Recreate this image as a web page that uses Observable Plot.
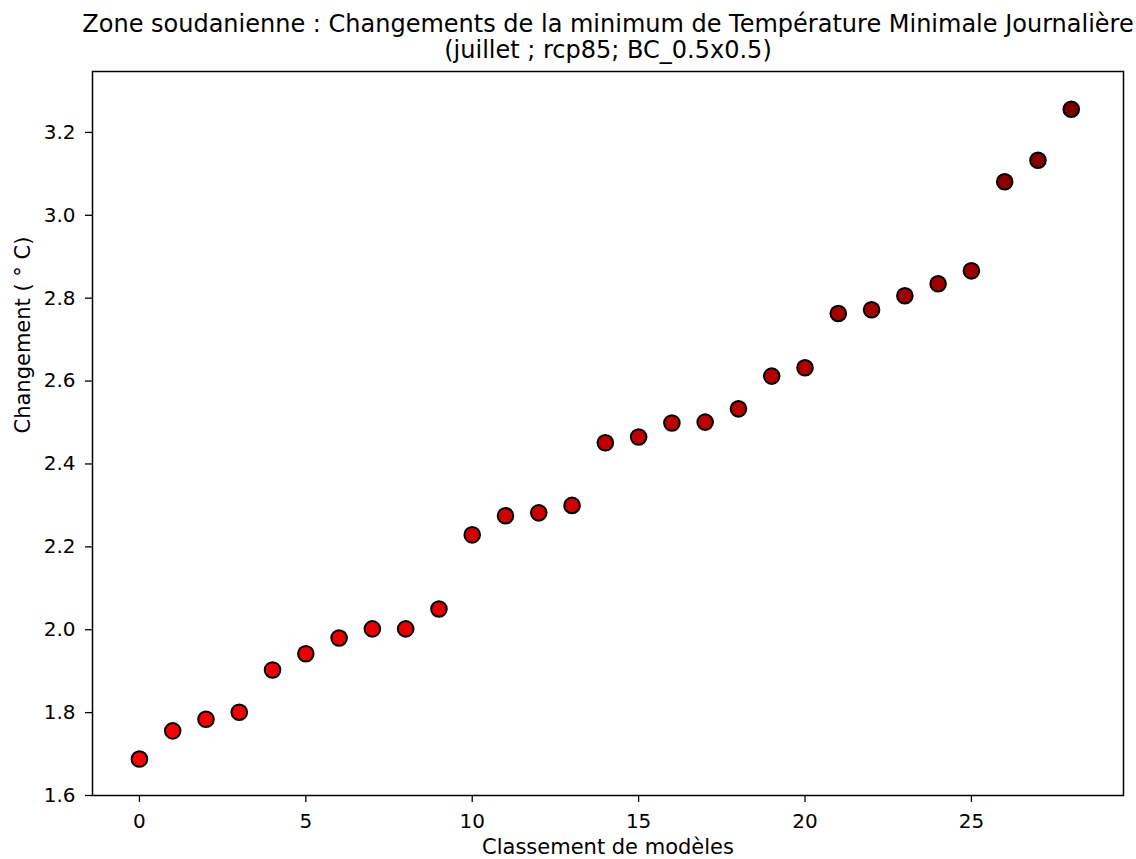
<!DOCTYPE html>
<html>
<head>
<meta charset="utf-8">
<script src="https://cdn.jsdelivr.net/npm/d3@7"></script>
<script src="https://cdn.jsdelivr.net/npm/@observablehq/plot@0.6"></script>
<style>
  body { margin: 0; background: white; }
  svg { font-family: "DejaVu Sans", sans-serif; display: block; }
</style>
</head>
<body>
<div id="chart"></div>
<script>
const titleLines = [
  "Zone soudanienne : Changements de la minimum de Température Minimale Journalière",
  "(juillet ; rcp85; BC_0.5x0.5)"
];
const xLabel = "Classement de modèles";
const yLabel = "Changement ( ° C)";
const ranks = [0,1,2,3,4,5,6,7,8,9,10,11,12,13,14,15,16,17,18,19,20,21,22,23,24,25,26,27,28];
const changes = [1.688,1.756,1.784,1.801,1.903,1.942,1.980,2.002,2.002,2.050,2.229,2.275,2.282,2.300,2.451,2.465,2.499,2.501,2.533,2.612,2.632,2.763,2.772,2.806,2.835,2.866,3.081,3.133,3.256];
const yTicks = [1.6,1.8,2.0,2.2,2.4,2.6,2.8,3.0,3.2];
const xTicks = [0,5,10,15,20,25];

const data = ranks.map((r, i) => ({rank: r, value: changes[i]}));

const plot = Plot.plot({
  width: 1136,
  height: 859,
  marginLeft: 92,
  marginRight: 13,
  marginTop: 71,
  marginBottom: 64,
  style: {fontFamily: "DejaVu Sans, sans-serif", fontSize: "20px", color: "black", background: "white"},
  x: {domain: [-1.41, 29.57], label: null},
  y: {domain: [1.6, 3.347], label: null},
  color: {type: "linear", domain: [d3.min(changes), d3.max(changes)], range: ["#ff0000", "#7a0000"]},
  marks: [
    Plot.axisX({ticks: xTicks, tickSize: 7, tickPadding: 11, tickFormat: d => String(d), fontSize: 20, strokeWidth: 1.3, label: null}),
    Plot.axisY({ticks: yTicks, tickSize: 7, tickPadding: 10, tickFormat: d => d.toFixed(1), fontSize: 20, strokeWidth: 1.3, label: null}),
    Plot.dot(data, {x: "rank", y: "value", r: 7.8, fill: "value", stroke: "black", strokeWidth: 2}),
    Plot.frame({stroke: "black", strokeWidth: 1.5}),
    Plot.text([titleLines[0]], {frameAnchor: "top", dy: -40, fontSize: 24, text: d => d, lineAnchor: "bottom"}),
    Plot.text([titleLines[1]], {frameAnchor: "top", dy: -14, fontSize: 24, text: d => d, lineAnchor: "bottom"}),
    Plot.text([xLabel], {frameAnchor: "bottom", dy: 58, fontSize: 21, text: d => d, lineAnchor: "bottom"}),
    Plot.text([yLabel], {frameAnchor: "left", dx: -69, rotate: -90, fontSize: 21, text: d => d})
  ]
});
document.getElementById("chart").appendChild(plot);
</script>
</body>
</html>
